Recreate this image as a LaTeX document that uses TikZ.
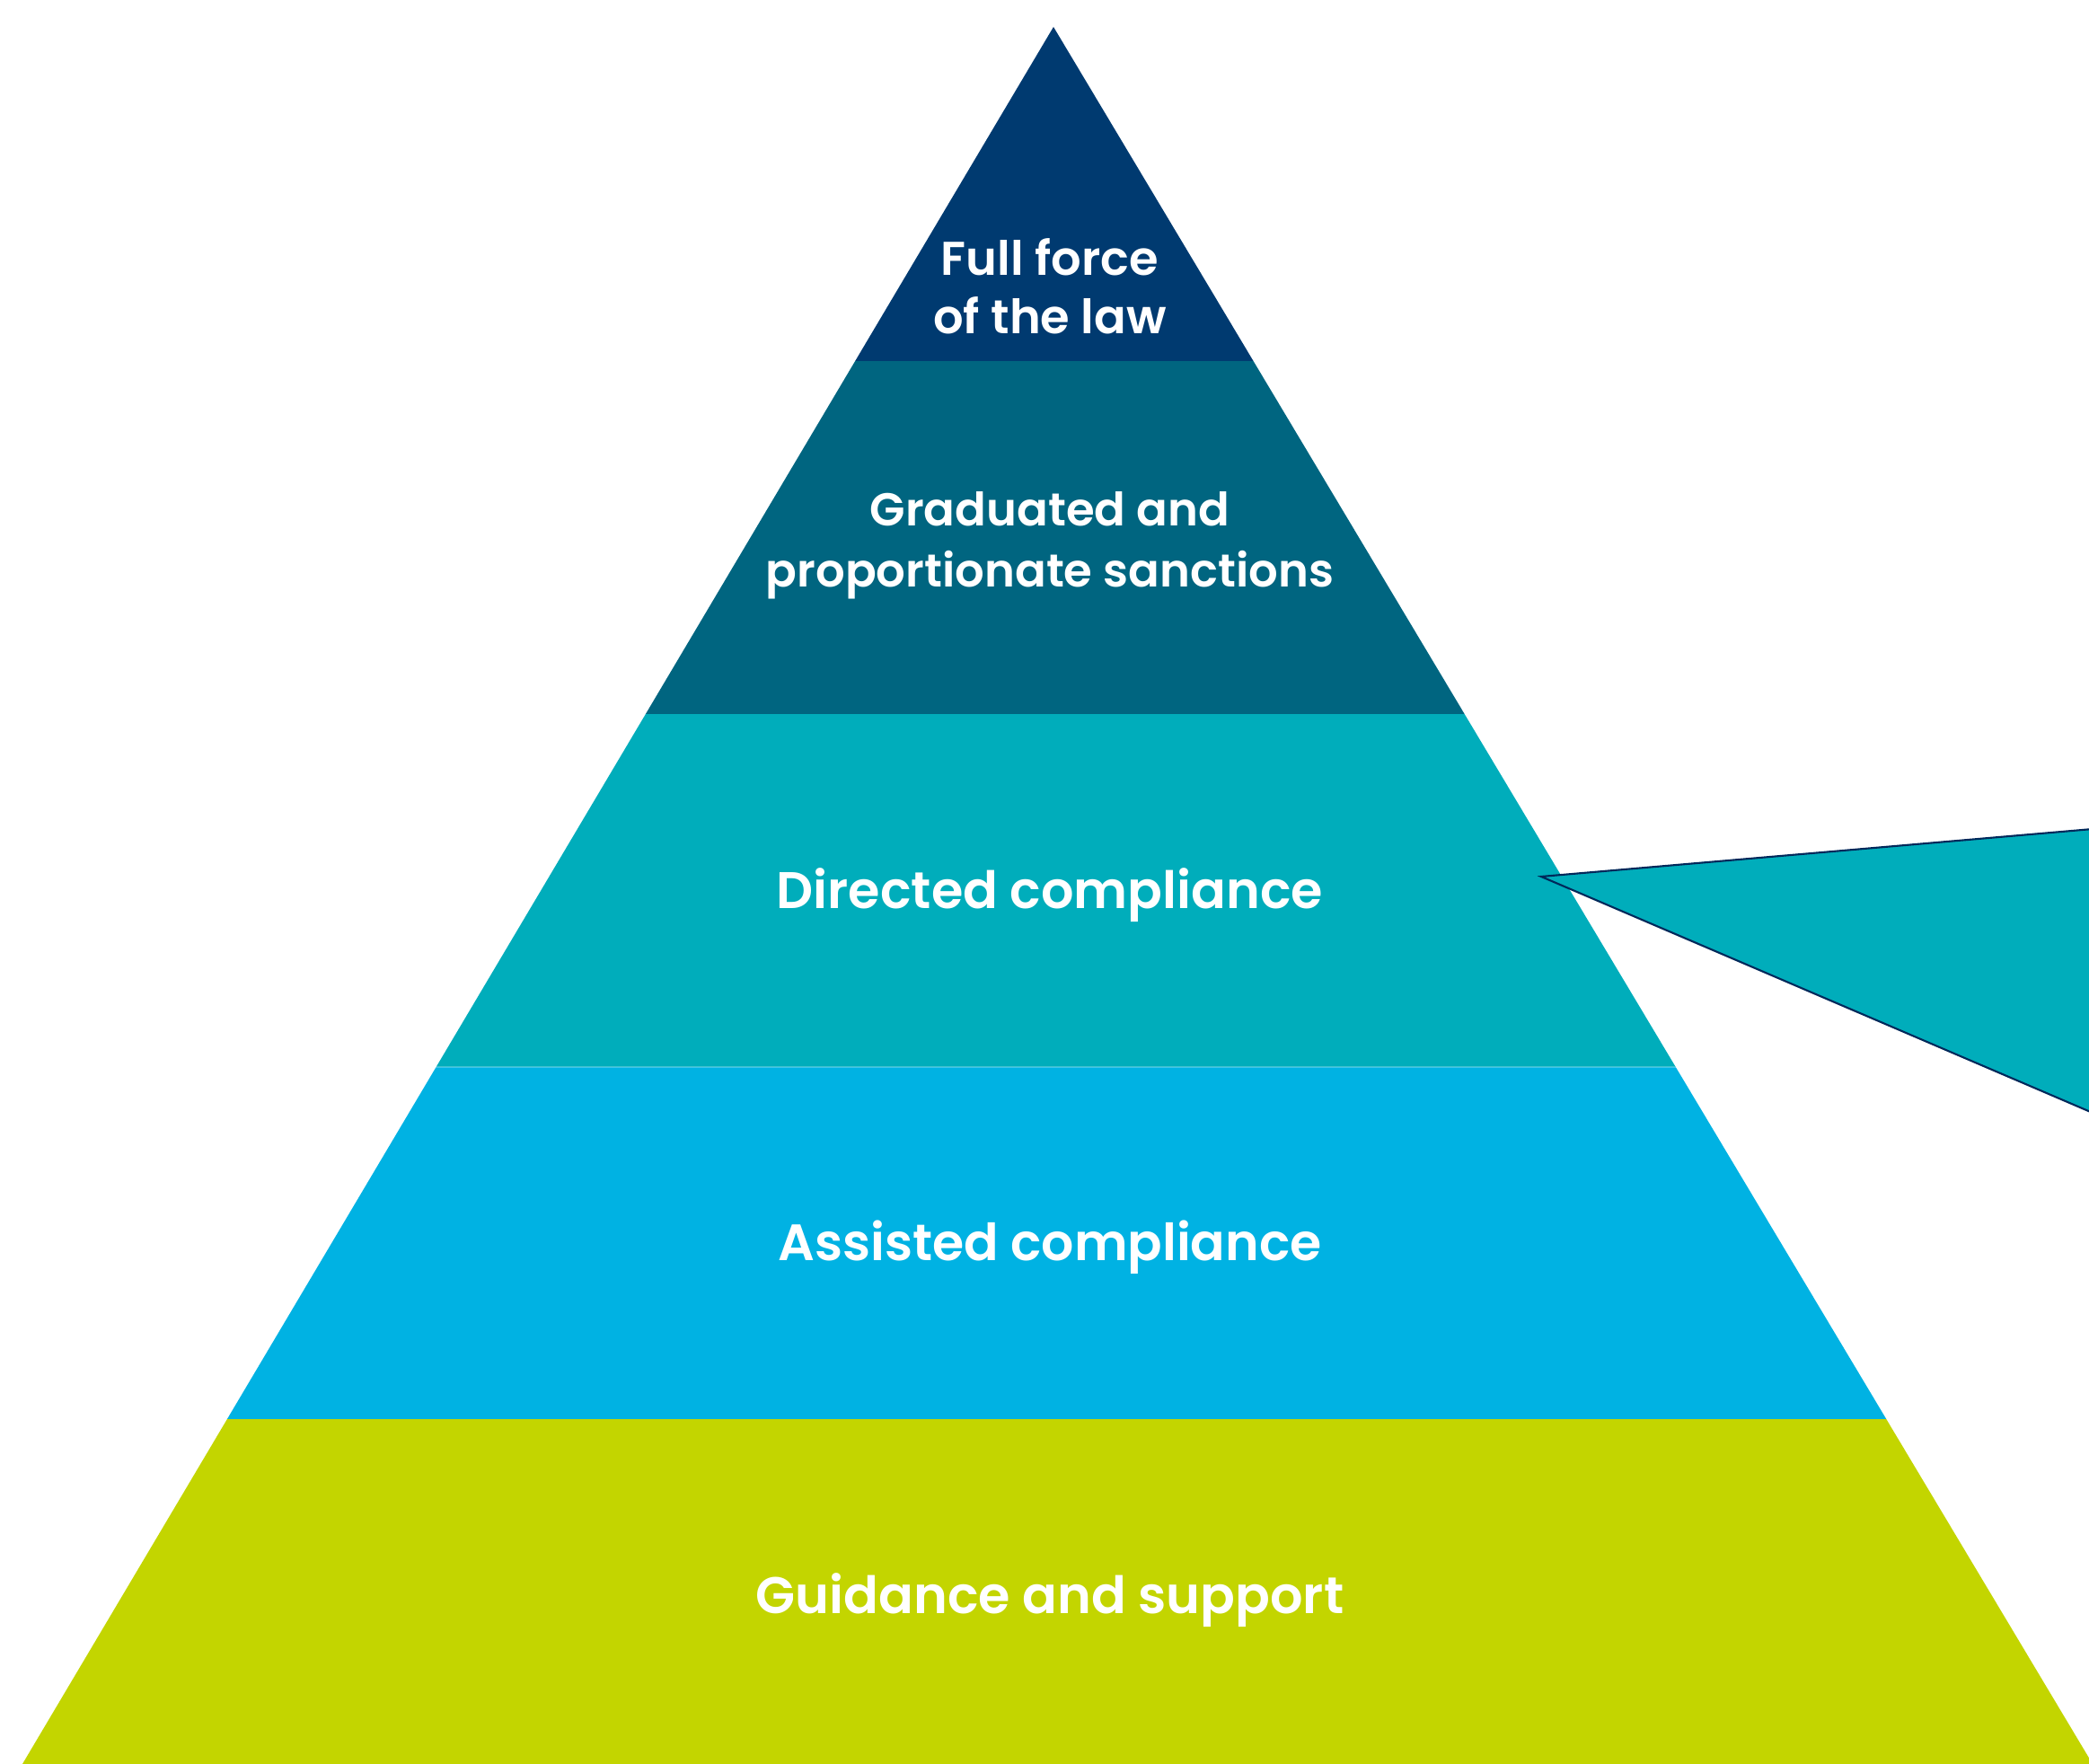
\documentclass[tikz,border=0pt]{standalone}
\usepackage{fontspec}
\setmainfont{Poppins}[BoldFont={Poppins SemiBold}]
\definecolor{lawblue}{RGB}{0,58,112}
\definecolor{sanctionblue}{RGB}{0,101,128}
\definecolor{directedteal}{RGB}{0,173,187}
\definecolor{assistedblue}{RGB}{0,178,227}
\definecolor{guidancegreen}{RGB}{195,213,0}
\definecolor{outlinenavy}{RGB}{0,40,90}

\begin{document}
\begin{tikzpicture}[x=1cm,y=1cm]
    \useasboundingbox (0,0) rectangle (23.26,19.64);
    \clip (0,0) rectangle (23.26,19.64);
    \coordinate (apex) at (11.73,19.34);
    \coordinate (left) at (0.25,0);
    \coordinate (right) at (23.30,0);
    \begin{scope}
        \clip (apex) -- (left) -- (right) -- cycle;
        \fill[lawblue] (0,15.62) rectangle (23.26,19.64);
        \fill[sanctionblue] (0,11.69) rectangle (23.26,15.62);
        \fill[directedteal] (0,7.76) rectangle (23.26,11.69);
        \fill[assistedblue] (0,3.84) rectangle (23.26,7.76);
        \fill[guidancegreen] (0,0) rectangle (23.26,3.84);
        \draw[white, opacity=0.25, line width=0.4pt] (0,7.76) -- (23.26,7.76);
    \end{scope}
    % callout
    \coordinate (tip) at (17.16,9.88);
    \draw[outlinenavy, fill=directedteal, line width=0.6pt] (tip) -- (24,10.47) -- (24,6.95) -- cycle;
    \begin{scope}[every node/.style={text=white,font=\bfseries,align=center}]
        \node[font=\bfseries\fontsize{15}{18.5}\selectfont](law) at (11.69,16.45) {Full force\\of the law};
        \node[font=\bfseries\fontsize{14.6}{19.3}\selectfont](sanctions) at (11.69,13.57) {Graduated and\\proportionate sanctions};
        \node[font=\bfseries\fontsize{16.3}{20}\selectfont](directed) at (11.69,9.67) {Directed compliance};
        \node[font=\bfseries\fontsize{16.2}{20}\selectfont](assisted) at (11.69,5.75) {Assisted compliance};
        \node[font=\bfseries\fontsize{16.3}{20}\selectfont](guidance) at (11.69,1.82) {Guidance and support};
    \end{scope}
\end{tikzpicture}
\end{document}
